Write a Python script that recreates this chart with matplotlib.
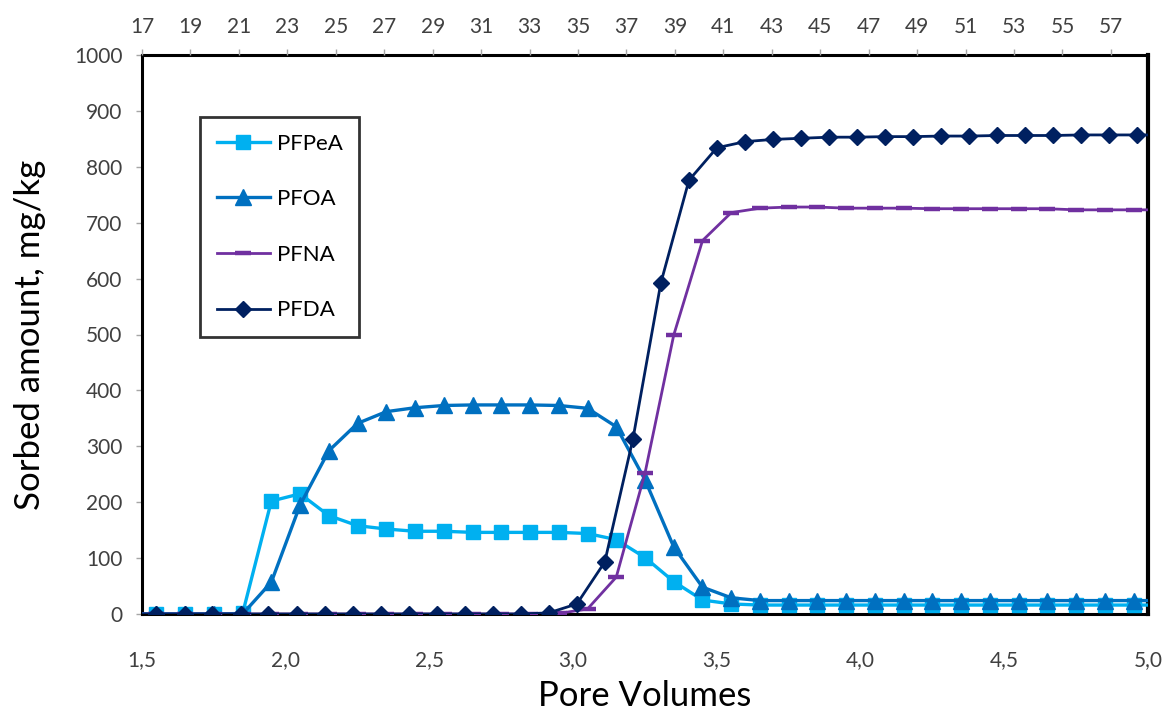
import matplotlib
matplotlib.use("Agg")
import matplotlib.pyplot as plt

plt.rcParams['font.family'] = ['Lato', 'DejaVu Sans']

# Pore volumes (bottom axis) for PFPeA, PFOA, PFNA
pv = [1.45, 1.55, 1.65, 1.75, 1.85, 1.95, 2.05, 2.15, 2.25, 2.35, 2.45, 2.55, 2.65,
      2.75, 2.85, 2.95, 3.05, 3.15, 3.25, 3.35, 3.45, 3.55, 3.65, 3.75, 3.85,
      3.95, 4.05, 4.15, 4.25, 4.35, 4.45, 4.55, 4.65, 4.75, 4.85, 4.95, 5.05]
# Pore volumes for PFDA (slightly different spacing)
pv_pfda = [1.45, 1.55, 1.648, 1.745, 1.843, 1.94, 2.038, 2.135, 2.233, 2.33, 2.428,
           2.525, 2.623, 2.72, 2.818, 2.915, 3.013, 3.11, 3.208, 3.305, 3.403,
           3.5, 3.598, 3.695, 3.793, 3.89, 3.988, 4.085, 4.183, 4.28, 4.378,
           4.475, 4.573, 4.67, 4.768, 4.865, 4.963, 5.06]

pfpea = [0, 0, 0, 0, 1, 202, 215, 176, 158, 152, 148, 148, 146, 146, 146, 146, 144,
         133, 101, 58, 25, 18, 16, 16, 16, 16, 16, 16, 16, 16, 16, 16, 16, 16, 16,
         16, 16]
pfoa = [0, 0, 0, 0, 0, 57, 195, 292, 341, 362, 369, 373, 374, 374, 374, 373, 368,
        335, 240, 120, 48, 29, 24, 24, 24, 24, 24, 24, 24, 24, 24, 24, 24, 24, 24,
        24, 24]
pfna = [0, 0, 0, 0, 0, 0, 0, 0, 0, 0, 0, 0, 0, 0, 0, 1, 9, 66, 252, 499, 668, 718,
        726, 728, 728, 726, 726, 726, 725, 725, 725, 725, 725, 723, 723, 723, 723]
pfda = [0, 0, 0, 0, 0, 0, 0, 0, 0, 0, 0, 0, 0, 0, 0, 2, 18, 93, 313, 592, 776, 834,
        845, 849, 851, 853, 853, 854, 854, 855, 855, 856, 856, 856, 857, 857, 857, 857]

series_names = ["PFPeA", "PFOA", "PFNA", "PFDA"]
bottom_ticks = [1.5, 2.0, 2.5, 3.0, 3.5, 4.0, 4.5, 5.0]
bottom_labels = ["1,5", "2,0", "2,5", "3,0", "3,5", "4,0", "4,5", "5,0"]
top_ticks = list(range(17, 58, 2))
y_ticks = list(range(0, 1001, 100))

W, H = 1166, 710
fig = plt.figure(figsize=(W / 100, H / 100), dpi=100)
ax = fig.add_axes([142 / W, 1 - 614 / H, 1006 / W, (614 - 55) / H])

tick_col = '#404040'
ax.plot(pv, pfpea, color='#00B0F0', lw=2.4, marker='s', ms=10.5, label=series_names[0], zorder=3)
ax.plot(pv, pfoa, color='#0070C0', lw=2.4, marker='^', ms=11.5, label=series_names[1], zorder=4)
ax.plot(pv, pfna, color='#7030A0', lw=2.0, marker='_', ms=12, mew=3.2, label=series_names[2], zorder=5)
ax.plot(pv_pfda, pfda, color='#002060', lw=2.0, marker='D', ms=7.8, label=series_names[3], zorder=6)

ax.set_xlim(1.5, 5.0)
ax.set_ylim(0, 1000)
ax.set_xticks(bottom_ticks)
ax.set_xticklabels(bottom_labels)
ax.set_yticks(y_ticks)
ax.tick_params(axis='x', length=0, pad=26, labelsize=15, labelcolor=tick_col)
ax.tick_params(axis='y', length=4, width=1, color='#A6A6A6', pad=10, labelsize=15,
               labelcolor=tick_col)
for s in ax.spines.values():
    s.set_color('black')
    s.set_linewidth(2.2)
ax.spines['right'].set_linewidth(3)

ax.set_xlabel("Pore Volumes", fontsize=25, labelpad=7)
ax.set_ylabel("Sorbed amount, mg/kg", fontsize=25, labelpad=20)

ax2 = ax.twiny()
ax2.set_xlim(17, 58.53)
ax2.set_xticks(top_ticks)
ax2.tick_params(axis='x', length=4, width=1, color='#A6A6A6', pad=9, labelsize=15,
                labelcolor=tick_col)
for s in ax2.spines.values():
    s.set_visible(False)

leg = ax.legend(loc='upper left', bbox_to_anchor=(200 / W, 1 - 117 / H),
                bbox_transform=fig.transFigure, borderaxespad=0, fontsize=16,
                frameon=True, fancybox=False, edgecolor='black', handlelength=2.4,
                handletextpad=0.3, labelspacing=1.6, borderpad=0.75)
leg.get_frame().set_linewidth(2)

fig.savefig("out.png", dpi=100)
